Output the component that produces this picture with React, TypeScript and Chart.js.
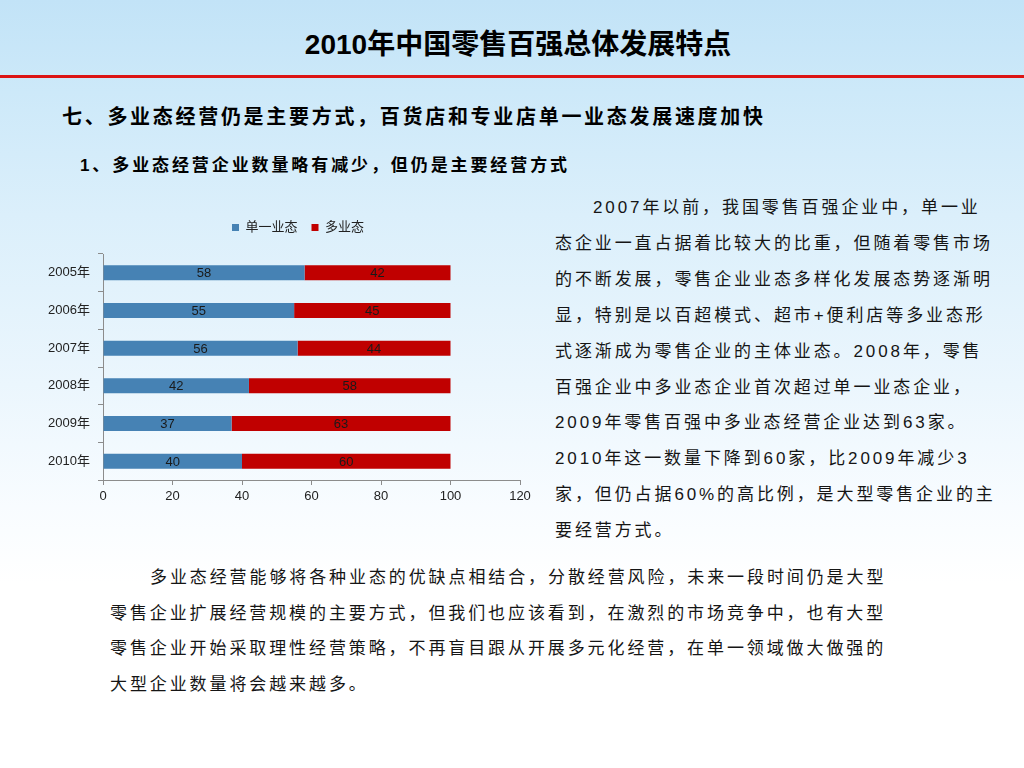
import React, { useEffect, useRef } from "react";
import { Chart, registerables } from "chart.js";

Chart.register(...registerables);

const categories = ["2005年", "2006年", "2007年", "2008年", "2009年", "2010年"];
const singleFormat = [58, 55, 56, 42, 37, 40];
const multiFormat = [42, 45, 44, 58, 63, 60];
const seriesNames = ["单一业态", "多业态"];
const xTicks = [0, 20, 40, 60, 80, 100, 120];

const titleText = "2010年中国零售百强总体发展特点";
const heading2 = "七、多业态经营仍是主要方式，百货店和专业店单一业态发展速度加快";
const heading3 = "1、多业态经营企业数量略有减少，但仍是主要经营方式";
const rightLines = [
  "2007年以前，我国零售百强企业中，单一业",
  "态企业一直占据着比较大的比重，但随着零售市场",
  "的不断发展，零售企业业态多样化发展态势逐渐明",
  "显，特别是以百超模式、超市+便利店等多业态形",
  "式逐渐成为零售企业的主体业态。2008年，零售",
  "百强企业中多业态企业首次超过单一业态企业，",
  "2009年零售百强中多业态经营企业达到63家。",
  "2010年这一数量下降到60家，比2009年减少3",
  "家，但仍占据60%的高比例，是大型零售企业的主",
  "要经营方式。",
];
const bottomLines = [
  "多业态经营能够将各种业态的优缺点相结合，分散经营风险，未来一段时间仍是大型",
  "零售企业扩展经营规模的主要方式，但我们也应该看到，在激烈的市场竞争中，也有大型",
  "零售企业开始采取理性经营策略，不再盲目跟从开展多元化经营，在单一领域做大做强的",
  "大型企业数量将会越来越多。",
];

const FONT = '"Liberation Sans", "Noto Sans CJK SC", sans-serif';

const valueLabels = {
  id: "valueLabels",
  afterDatasetsDraw(chart: any) {
    const ctx = chart.ctx;
    ctx.save();
    ctx.font = `13px ${FONT}`;
    ctx.fillStyle = "#1a1a1a";
    ctx.textAlign = "center";
    ctx.textBaseline = "middle";
    chart.data.datasets.forEach((ds: any, di: number) => {
      const meta = chart.getDatasetMeta(di);
      meta.data.forEach((el: any, i: number) => {
        const p = el.getProps(["x", "y", "base"], true);
        ctx.fillText(String(ds.data[i]), (p.x + p.base) / 2, p.y + 1);
      });
    });
    ctx.restore();
  },
};

const legendTweak = {
  id: "legendTweak",
  beforeInit(chart: any) {
    const legend = chart.legend;
    if (!legend) return;
    const origFit = legend.fit;
    legend.fit = function () {
      origFit.call(this);
      this.height += 10;
    };
  },
  afterLayout(chart: any) {
    const l = chart.legend;
    if (!l) return;
    l.left -= 13.5;
    l.right -= 13.5;
  },
};

function BarChart() {
  const ref = useRef<HTMLCanvasElement | null>(null);
  useEffect(() => {
    if (!ref.current) return;
    const chart = new Chart(ref.current, {
      type: "bar",
      data: {
        labels: categories,
        datasets: [
          {
            label: seriesNames[0],
            data: singleFormat,
            backgroundColor: "#4682b4",
            borderWidth: 0,
            categoryPercentage: 0.8,
            barPercentage: 0.5,
          },
          {
            label: seriesNames[1],
            data: multiFormat,
            backgroundColor: "#c00000",
            borderWidth: 0,
            categoryPercentage: 0.8,
            barPercentage: 0.5,
          },
        ],
      },
      options: {
        indexAxis: "y",
        responsive: false,
        animation: false,
        layout: { padding: { left: 0, right: 30, top: 0, bottom: 0 } },
        plugins: {
          legend: {
            display: true,
            position: "top",
            fullSize: false,
            labels: {
              boxWidth: 7,
              boxHeight: 7,
              padding: 14,
              color: "#222",
              font: { size: 13, family: FONT },
            },
          },
          tooltip: { enabled: false },
        },
        scales: {
          x: {
            stacked: true,
            min: xTicks[0],
            max: xTicks[xTicks.length - 1],
            ticks: {
              stepSize: xTicks[1] - xTicks[0],
              color: "#222",
              padding: 4,
              font: { size: 13, family: FONT },
            },
            grid: { display: true, drawOnChartArea: false, drawTicks: true, tickLength: 5, color: "#8c8c8c" },
            border: { display: true, color: "#8c8c8c" },
            afterFit(scale: any) {
              scale.height = 30;
            },
          },
          y: {
            stacked: true,
            ticks: {
              color: "#222",
              padding: 8,
              font: { size: 13, family: FONT },
            },
            grid: { display: true, drawOnChartArea: false, drawTicks: true, tickLength: 5, color: "#8c8c8c", offset: true },
            border: { display: true, color: "#8c8c8c" },
            afterFit(scale: any) {
              scale.width = 73;
            },
          },
        },
      },
      plugins: [valueLabels, legendTweak],
    } as any);
    return () => chart.destroy();
  }, []);
  return <canvas ref={ref} width={520} height={303} style={{ display: "block" }} />;
}

export default function App() {
  const paraStyle: React.CSSProperties = {
    position: "absolute",
    whiteSpace: "nowrap",
    fontFamily: FONT,
    fontSize: 17,
    letterSpacing: "2.9px",
    lineHeight: "36px",
    color: "#151515",
  };
  return (
    <div
      style={{
        position: "absolute",
        left: 0,
        top: 0,
        width: 1024,
        height: 768,
        overflow: "hidden",
        background:
          "linear-gradient(to bottom, #c2e3f7 0%, #cde9f9 12%, #dbeffb 28%, #ebf6fd 50%, #f8fcff 66%, #ffffff 76%)",
        fontFamily: FONT,
      }}
    >
      <div
        style={{
          position: "absolute",
          left: 12,
          top: 25,
          width: 1012,
          textAlign: "center",
          fontSize: 28,
          fontWeight: "bold",
          lineHeight: "40px",
          color: "#000",
          whiteSpace: "nowrap",
        }}
      >
        {titleText}
      </div>
      <div style={{ position: "absolute", left: 0, top: 75, width: 1024, height: 3, background: "#dc1414" }} />
      <div
        style={{
          position: "absolute",
          left: 62,
          top: 100,
          fontSize: 20,
          fontWeight: "bold",
          letterSpacing: "2.7px",
          lineHeight: "34px",
          whiteSpace: "nowrap",
          color: "#000",
        }}
      >
        {heading2}
      </div>
      <div
        style={{
          position: "absolute",
          left: 80,
          top: 151,
          fontSize: 17,
          fontWeight: "bold",
          letterSpacing: "2.9px",
          lineHeight: "30px",
          whiteSpace: "nowrap",
          color: "#000",
        }}
      >
        {heading3}
      </div>
      <div style={{ position: "absolute", left: 30, top: 207 }}>
        <BarChart />
      </div>
      {rightLines.map((t, i) => (
        <div key={"r" + i} style={{ ...paraStyle, left: i === 0 ? 593 : 555, top: 190 + i * 35.9 }}>
          {t}
        </div>
      ))}
      {bottomLines.map((t, i) => (
        <div key={"b" + i} style={{ ...paraStyle, left: i === 0 ? 150 : 110, top: 560 + i * 35.7 }}>
          {t}
        </div>
      ))}
    </div>
  );
}
